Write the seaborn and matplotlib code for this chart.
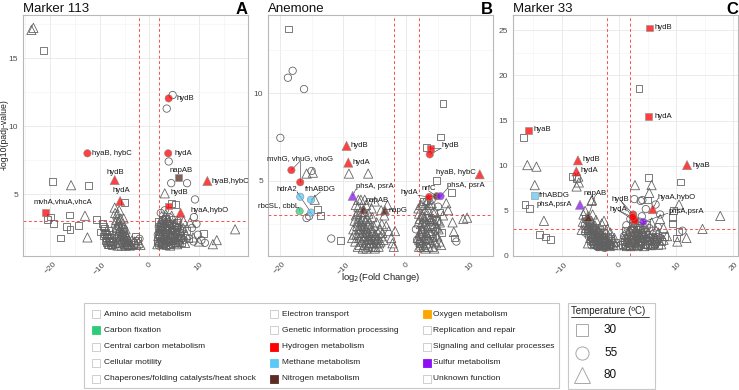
import matplotlib
matplotlib.use("Agg")
import matplotlib.pyplot as plt
import seaborn as sns
import pandas as pd
from matplotlib.patches import Rectangle
from matplotlib.lines import Line2D
from matplotlib.ticker import MultipleLocator

sns.set_theme(style="white")
plt.rcParams["font.family"] = ["Liberation Sans", "DejaVu Sans"]

# ---------------- data ----------------
TITLES = ["Marker 113", "Anemone", "Marker 33"]
LETTERS = ["A", "B", "C"]

CATEGORIES = ["Amino acid metabolism", "Carbon fixation", "Central carbon metabolism",
              "Cellular motility", "Chaperones/folding catalysts/heat shock",
              "Electron transport", "Genetic information processing", "Hydrogen metabolism",
              "Methane metabolism", "Nitrogen metabolism",
              "Oxygen metabolism", "Replication and repair", "Signaling and cellular processes",
              "Sulfur metabolism", "Unknown function"]
CAT_COLORS = {"Carbon fixation": "#2ECC7A", "Hydrogen metabolism": "#FF0000",
              "Methane metabolism": "#5BC8F5", "Nitrogen metabolism": "#5C2B24",
              "Oxygen metabolism": "#FFA500", "Sulfur metabolism": "#8B10F5"}
TEMPS = ["30", "55", "80"]

# Panel A (Marker 113) - open points by temperature
A_sq = [(-21.3,15.6),(-19.5,5.95),(-12.3,5.6),(-20.5,3.1),(-19.4,2.85),(-20.0,3.3),(-16.1,3.45),(-14.3,2.7),
        (-16.0,2.4),(-16.8,2.6),(-18.0,1.75),(-10.7,3.1),(-9.9,2.2),(-9.2,2.6),(-8.7,2.0),(-5.0,4.35),(8.0,1.7),
        (5.3,4.2),(10.9,2.1),(-9.0,2.5),(-8.8,2.2),(-8.5,1.9),(-8.3,1.7),(-8.1,1.5),(-7.9,1.3),(-8.6,1.4),
        (-8.9,1.6),(-7.6,1.2),(-8.2,1.25),(-7.4,1.5),(-9.3,1.9),(-8.0,2.0),(-7.7,1.8),(-3.2,1.3),(-2.8,1.9),
        (-2.4,1.6),(1.7,1.6),(2.1,2.0),(2.5,2.4),(2.9,2.8),(3.3,3.2),(3.7,1.9),(4.1,2.3),(4.5,2.7),(4.9,3.1),
        (5.3,1.4),(5.7,1.8),(6.1,2.2),(2.7,1.3),(3.5,1.6),(4.3,1.3),(1.9,3.0),(4.7,1.6),(5.5,2.9),(6.5,1.4),
        (4.4,4.3),(7.5,2.3),(-8.4,1.3),(-8.0,1.6),(-7.8,1.4),(-8.7,1.8),(-9.1,2.1),(-7.5,1.3),(-8.3,2.3),
        (-9.4,2.8),(1.8,2.2),(2.2,2.6),(2.6,3.1),(3.0,1.9),(3.4,2.4),(3.8,2.7),(4.2,1.6),(4.6,2.0),(5.0,2.4),
        (5.4,2.6),(2.4,1.4),(3.2,1.2),(6.3,1.8)]
A_ci = [(4.7,12.3),(3.5,11.3),(3.9,7.4),(4.4,5.8),(7.6,5.8),(9.2,4.6),(9.8,2.0),(10.5,1.6),(11.2,1.4),(9.5,2.8),
        (9.0,3.3),(8.6,2.5),(8.9,1.5),(-6.0,2.2),(-5.4,2.0),(-4.9,1.8),(-4.5,1.6),(-5.7,1.8),(-4.3,1.4),(-6.2,2.6),
        (-5.1,2.4),(-2.0,1.7),(1.8,1.4),(2.0,1.8),(2.2,2.2),(2.4,2.6),(2.6,3.0),(2.8,3.4),(3.0,1.3),(3.2,1.7),
        (3.4,2.1),(3.6,2.5),(3.8,2.9),(4.0,3.3),(4.2,1.5),(4.4,1.9),(4.6,2.3),(4.8,2.7),(5.0,1.3),(5.2,1.7),
        (5.4,2.1),(5.6,2.5),(5.8,3.0),(6.0,1.5),(6.3,1.9),(6.6,2.3),(7.0,1.6),(1.9,2.6),(2.3,3.6),(3.1,3.8),
        (2.5,1.5),(3.7,1.4),(1.7,2.0),(2.1,2.4),(2.5,2.8),(2.9,1.6),(3.3,2.0),(3.7,2.4),(4.1,2.8),(4.5,1.3),
        (4.9,1.7),(5.3,2.1),(5.7,2.5),(6.1,1.3),(6.5,1.7),(2.7,1.9),(3.5,2.8),(4.3,2.2),(1.9,1.2),(3.9,1.2),
        (2.3,1.3),(3.1,2.4)]
A_tr = [(-23.8,17.1),(-23.4,17.25),(-15.8,5.65),(-13.0,3.4),(-12.5,1.8),(3.1,5.05),(12.8,1.3),(13.6,1.6),
        (17.3,2.4),(10.0,1.5),(8.8,1.8),(7.4,2.0),(8.2,2.9),(6.9,3.0),(-7.0,4.0),(-6.9,3.6),(-6.7,3.1),(-6.5,3.5),
        (-6.2,3.0),(-6.0,2.7),(-5.8,2.5),(-5.6,2.3),(-5.3,2.1),(-5.1,1.9),(-4.9,1.7),(-4.6,1.5),(-4.4,1.35),
        (-4.2,1.25),(-5.5,1.6),(-5.9,1.4),(-6.3,1.5),(-6.6,1.8),(-6.4,2.1),(-5.0,1.3),(-4.7,2.0),(-4.0,1.5),
        (-3.8,1.3),(-6.1,3.8),(-5.4,2.8),(-5.2,3.2),(-4.8,2.4),(-3.5,1.6),(-3.0,1.5),(-2.6,1.3),(-2.2,1.4),
        (-1.8,1.25),(1.6,1.3),(2.0,1.5),(2.4,1.9),(2.8,2.3),(3.2,2.7),(3.6,3.1),(4.0,1.6),(4.4,2.0),(4.8,2.4),
        (5.2,2.8),(5.6,1.3),(6.0,1.7),(6.4,2.1),(6.8,2.5),(3.3,3.5),(4.5,3.4),(2.2,2.9),(-6.8,2.9),(-6.5,2.5),
        (-6.1,2.3),(-5.7,2.0),(-5.3,1.7),(-4.9,1.5),(-4.5,1.3),(-6.4,1.2),(-5.6,1.2),(-4.8,1.2),(-6.8,1.4),
        (-6.0,1.9),(-5.2,2.5),(-4.4,1.8),(-3.9,1.2),(-5.8,3.2),(-6.6,2.6),(-5.0,2.2),(-4.2,1.6),(-3.6,1.25),
        (1.8,1.9),(2.2,2.3),(2.6,2.7),(3.0,3.1),(3.4,1.3),(3.8,1.7),(4.2,2.1),(4.6,2.5),(5.0,2.0),(5.4,1.5),
        (5.8,2.2),(2.6,1.4),(3.0,1.8),(4.2,1.2),(6.2,2.6),(7.2,1.4)]
# Panel A highlighted genes
A_hx = [3.9, -12.5, 3.8, -7.0, -5.9, 5.95, 11.7, 3.9, 6.3, -20.9]
A_hy = [12.05, 8.0, 8.0, 6.03, 4.48, 6.2, 5.96, 4.12, 3.62, 3.65]
A_ht = ["55", "55", "55", "80", "80", "30", "80", "30", "80", "30"]
A_hc = ["Hydrogen metabolism"] * 5 + ["Nitrogen metabolism"] + ["Hydrogen metabolism"] * 4

# Panel B (Anemone)
B_sq = [(-18.6,13.7),(5.8,9.4),(5.4,7.5),(3.2,6.9),(4.7,5.0),(7.1,4.3),(7.6,1.7),(-14.1,3.35),(-13.6,3.0),
        (-10.4,1.57),(2.3,2.2),(3.5,2.9),(4.2,1.7),(4.8,2.7),(2.7,3.8),(5.3,3.2),(2.0,1.4),(3.0,1.6),(5.6,2.0)]
B_ci = [(-18.0,11.3),(-18.75,10.9),(-16.2,10.25),(-19.95,7.45),(-15.0,5.55),(-15.8,2.85),(-15.4,2.95),
        (-11.9,1.67),(7.9,1.5),(1.5,2.2),(-7.0,2.3),(-6.3,1.9),(-5.9,1.2),(2.5,3.5),(3.2,3.8),(4.0,3.9),
        (2.2,1.1),(3.8,2.6),(4.6,2.1),(5.0,3.5),(1.7,1.6)]
B_tr = [(-15.8,5.4),(-14.8,5.45),(-14.5,3.9),(-9.1,5.4),(-6.05,5.4),(-7.6,3.9),(-6.6,3.9),(-8.0,3.6),
        (-3.0,3.6),(-4.0,3.3),(-8.0,3.0),(-7.6,2.8),(-7.2,2.6),(-6.8,2.4),(-6.4,2.2),(-6.0,2.0),(-5.6,1.8),
        (-5.2,1.6),(-4.8,1.4),(-4.4,1.2),(-7.8,2.4),(-7.4,2.2),(-7.0,2.0),(-6.6,1.8),(-6.2,1.6),(-5.8,1.4),
        (-5.4,1.2),(-7.9,1.9),(-7.5,1.7),(-7.1,1.5),(-6.7,1.3),(-6.3,1.1),(-8.2,2.7),(-8.1,1.5),(-7.7,1.2),
        (-6.9,2.9),(-6.5,2.7),(-6.1,2.5),(-5.7,2.3),(-5.3,2.1),(-4.9,1.9),(-4.5,1.7),(-4.1,1.5),(-6.0,3.1),
        (-5.4,2.9),(-4.7,2.6),(-4.2,2.2),(-3.8,2.0),(-5.0,1.1),(-6.9,1.1),(-7.3,3.2),(-8.4,2.2),(-8.6,1.7),
        (-5.5,3.4),(-6.4,3.6),(-7.6,3.5),(-7.2,3.9),(-5.0,3.8),(-3.5,3.0),(-3.2,2.4),(-2.8,2.1),(-2.2,1.4),
        (-2.0,1.2),(-2.4,1.7),(-1.8,2.1),(2.0,1.2),(2.2,1.5),(2.4,1.8),(2.6,2.1),(2.8,2.4),(3.0,2.7),(3.2,3.0),
        (3.4,3.3),(3.6,3.6),(2.1,2.0),(2.3,2.5),(2.5,3.0),(2.7,1.3),(2.9,1.7),(3.1,2.0),(3.3,2.3),(3.5,1.2),
        (3.7,1.6),(3.9,2.0),(4.1,2.4),(4.3,2.8),(4.5,3.2),(4.7,1.4),(4.9,1.8),(5.1,2.2),(5.3,2.6),(5.5,1.3),
        (1.8,1.7),(1.9,2.6),(2.0,3.1),(4.0,3.7),(4.4,1.1),(3.0,1.1),(5.8,3.0),(6.3,3.7),(9.0,2.8),(9.6,2.87),
        (7.3,2.6),(7.5,2.05),(6.6,3.3),(-7.7,2.6),(-7.3,2.4),(-6.9,2.2),(-6.5,2.0),(-6.1,1.8),(-5.7,1.6),
        (-5.3,1.4),(-4.9,1.2),(-7.5,2.0),(-7.1,1.8),(-6.7,1.6),(-6.3,1.4),(-5.9,1.6),(-5.5,2.0),(-5.1,1.8),
        (-4.7,1.6),(-4.3,1.4),(-7.4,1.3),(-6.0,1.2),(-8.3,1.9),(-7.0,2.7),(-6.2,2.8),(-5.8,2.6),(-4.5,2.0),
        (-4.0,1.8),(-3.6,1.6),(-7.8,3.1),(-6.6,3.2),(-5.2,2.4),(-3.9,2.5),(2.0,1.6),(2.2,1.9),(2.4,2.2),
        (2.6,2.6),(2.8,2.9),(3.0,3.3),(3.2,1.4),(3.4,1.7),(3.6,2.0),(3.8,2.4),(4.0,2.8),(4.2,3.2),(4.4,1.5),
        (4.6,1.9),(4.8,2.3),(5.0,2.7),(2.1,2.8),(2.5,1.4),(2.9,1.2),(3.3,1.9),(3.7,2.8),(4.1,1.2),(4.5,2.5),
        (5.2,1.5),(1.9,3.4),(2.3,3.6),(3.1,3.7),(3.5,3.9)]
B_hx = [-9.47, -9.2, -18.2, -16.8, -16.8, -15.1, -16.9, -15.1, -8.5, -6.8, -3.4, 3.8, 3.7, 11.6, 3.6, 4.8, 5.4]
B_hy = [6.99, 6.03, 5.6, 4.9, 4.07, 3.9, 3.24, 3.16, 4.12, 3.35, 3.3, 6.84, 6.5, 5.36, 4.06, 4.1, 4.1]
B_ht = ["80", "80", "55", "55", "55", "55", "55", "55", "80", "80", "80", "30", "55", "80", "55", "55", "55"]
B_hc = ["Hydrogen metabolism"] * 4 + ["Methane metabolism"] * 2 + ["Carbon fixation", "Methane metabolism",
        "Sulfur metabolism", "Nitrogen metabolism", "Nitrogen metabolism"] + ["Hydrogen metabolism"] * 4 + \
       ["Nitrogen metabolism", "Sulfur metabolism"]

# Panel C (Marker 33)
C_sq = [(3.5,18.6),(-16.6,13.1),(-16.4,5.67),(-15.6,5.3),(-13.9,2.4),(-12.8,2.1),(-11.9,1.85),(-8.2,8.8),
        (-7.4,8.6),(5.1,8.7),(5.0,6.2),(10.8,8.2),(9.5,5.07),(9.4,4.26),(9.4,3.6),(10.5,2.7),(10.1,2.0),
        (-5.8,4.2),(-5.2,3.6),(-4.6,3.0),(-4.0,2.6),(-3.4,2.2),(-2.8,1.8),(-2.2,1.5),(-1.6,1.3),(-1.0,1.2),
        (-5.5,2.8),(-4.9,2.4),(-4.3,2.0),(-3.7,1.6),(-3.1,1.3),(-2.5,1.1),(-5.0,1.7),(-4.4,1.4),(-3.8,1.1),
        (-6.0,3.4),(-0.6,1.5),(-1.9,2.1),(-3.3,2.9),(0.6,1.3),(1.0,1.6),(1.4,2.0),(1.8,1.2),(2.2,1.5),(2.6,1.9),
        (3.0,2.3),(3.4,1.2),(3.8,1.6),(4.2,2.0),(4.6,2.4),(5.0,1.3),(5.4,1.7),(5.8,2.1),(6.2,1.4),(6.6,1.8),
        (7.0,1.2),(7.5,1.6),(3.2,3.2),(4.8,3.5),(1.2,2.8),(2.4,3.6),(8.0,2.2),(-5.4,3.3),(-4.8,2.9),(-4.2,2.4),
        (-3.6,2.0),(-3.0,1.6),(-2.4,1.3),(-1.8,1.1),(-4.6,1.6),(-4.0,1.3),(-3.4,1.1),(-2.6,2.6),(-1.4,1.9),
        (1.2,1.1),(1.6,1.5),(2.0,1.9),(2.4,2.4),(2.8,1.1),(3.2,1.5),(3.6,1.9),(4.0,2.3),(4.4,1.3),(4.8,1.7),
        (5.2,2.1),(5.6,1.1),(6.0,1.6),(6.4,2.2),(2.2,2.9),(3.0,3.0),(3.8,2.9)]
C_ci = [(2.7,6.3),(3.8,6.1),(4.1,6.2),(4.7,5.2),(11.1,2.8),(7.2,4.6),(6.4,5.7),(-5.6,3.9),(-5.0,3.3),(-4.4,2.7),
        (-3.8,2.3),(-3.2,1.9),(-2.6,1.6),(-2.0,1.3),(-1.4,1.1),(-5.3,2.2),(-4.7,1.9),(-4.1,1.6),(-3.5,1.3),
        (-2.9,1.1),(-5.9,2.6),(-4.8,1.2),(-2.3,2.4),(-1.2,1.7),(0.9,2.2),(1.5,1.4),(1.9,2.5),(2.3,3.0),(2.7,1.3),
        (3.1,1.7),(3.5,2.1),(3.9,2.5),(4.3,2.9),(4.7,1.2),(5.1,1.6),(5.5,2.0),(5.9,2.4),(6.3,1.2),(6.7,1.6),
        (7.2,2.0),(2.0,4.1),(3.6,3.8),(4.0,4.4),(1.3,3.4),(5.3,3.1),(6.8,3.2),(-5.1,3.8),(-4.5,3.2),(-3.9,2.8),
        (-3.3,2.4),(-2.7,2.0),(-2.1,1.6),(-1.5,1.3),(-4.3,1.2),(-3.7,1.0),(-2.5,0.9),(1.0,1.3),(1.4,1.7),
        (1.8,2.1),(2.2,1.2),(2.6,1.6),(3.0,2.0),(3.4,2.5),(3.8,1.1),(4.2,1.5),(4.6,1.9),(5.0,2.3),(5.4,1.2),
        (5.8,1.6),(6.2,2.0),(2.8,3.6),(3.6,3.3)]
C_tr = [(-16.0,10.07),(-14.4,9.9),(-14.7,7.85),(-13.1,3.9),(-7.0,8.15),(-7.4,7.7),(-7.1,8.8),(-4.7,6.2),
        (2.8,7.85),(5.7,7.85),(5.3,7.0),(10.5,5.7),(7.2,4.1),(17.7,4.44),(14.6,3.0),(11.8,2.0),(10.2,1.6),
        (7.8,3.1),(8.4,2.2),(-4.8,6.1),(-6.2,4.6),(-5.9,5.0),(-5.4,4.4),(-4.8,3.9),(-4.2,3.4),(-3.6,2.9),
        (-3.0,2.5),(-2.4,2.1),(-1.8,1.7),(-1.2,1.4),(-5.7,3.1),(-5.1,2.6),(-4.5,2.2),(-3.9,1.8),(-3.3,1.5),
        (-2.7,1.2),(-6.3,3.8),(-6.5,2.9),(-5.4,1.4),(-4.0,4.0),(-3.0,3.6),(-2.0,3.0),(-1.5,2.6),(-0.8,2.0),
        (-2.6,3.9),(-4.6,4.6),(0.8,1.8),(1.6,2.6),(2.0,1.1),(2.4,2.2),(2.8,2.7),(3.2,1.1),(3.6,1.4),(4.0,1.8),
        (4.4,1.1),(4.8,2.1),(5.2,2.5),(5.6,1.2),(6.0,1.5),(6.4,2.0),(6.9,2.6),(7.4,1.3),(7.8,1.8),(2.6,3.4),
        (3.0,4.0),(4.5,3.2),(5.7,3.7),(6.5,2.8),(1.1,1.2),(-5.6,3.6),(-5.0,3.1),(-4.4,2.6),(-3.8,2.2),
        (-3.2,1.8),(-2.6,1.5),(-2.0,1.2),(-5.3,2.9),(-4.7,2.4),(-4.1,2.0),(-3.5,1.7),(-2.9,1.4),(-2.3,1.2),
        (-5.0,2.0),(-4.4,1.7),(-3.8,1.4),(-3.2,1.1),(-1.6,1.1),(-4.2,3.0),(-3.6,2.6),(-2.8,2.2),(-2.2,1.8),
        (-1.0,1.6),(-0.5,1.2),(1.4,1.1),(1.8,1.5),(2.2,1.8),(2.6,2.3),(3.0,1.4),(3.4,1.7),(3.8,2.1),(4.2,2.5),
        (4.6,1.4),(5.0,1.8),(5.4,2.2),(5.8,1.3),(6.2,1.7),(2.0,2.8),(3.2,2.6),(4.0,3.0),(1.0,2.4)]
C_hx = [5.4, 5.1, -15.8, 11.9, -7.16, -7.44, -14.8, -6.8, -5.4, 2.5, 2.6, 2.8, 2.4, 5.9, 4.26]
C_hy = [25.26, 15.44, 13.9, 10.07, 10.6, 9.37, 6.67, 5.67, 4.33, 4.6, 4.1, 3.9, 4.3, 5.19, 3.78]
C_ht = ["30", "30", "30", "80", "80", "80", "30", "80", "80", "55", "55", "55", "55", "80", "55"]
C_hc = ["Hydrogen metabolism"] * 6 + ["Methane metabolism", "Sulfur metabolism", "Nitrogen metabolism"] + \
       ["Hydrogen metabolism"] * 5 + ["Sulfur metabolism"]

# gene labels: (text, x, y, ha, indices of connected points)
A_labels = [("hydB", 5.4, 12.05, "left", []), ("hyaB, hybC", -11.6, 8.0, "left", []),
            ("hydA", 5.1, 8.0, "left", []), ("hydB", -6.9, 6.6, "center", []),
            ("hydA", -5.7, 5.25, "center", []), ("napAB", 6.3, 6.75, "center", []),
            ("hyaB,hybC", 12.6, 5.96, "left", []), ("hydB", 5.95, 5.1, "center", []),
            ("hyaA,hybO", 8.2, 3.77, "left", []), ("mvhA,vhuA,vhcA", -23.4, 4.43, "left", [])]
B_labels = [("hydB", -8.8, 6.99, "left", []), ("hydA", -8.5, 6.03, "left", []),
            ("mvhG, vhuG, vhoG", -16.8, 6.27, "center", [2, 3]), ("hdrA2", -17.3, 4.5, "right", [4, 7]),
            ("frhABDG", -13.6, 4.5, "center", [5]), ("rbcSL, cbbL", -17.0, 3.58, "right", [6]),
            ("phsA, psrA", -8.0, 4.66, "left", [8]), ("napAB", -6.4, 3.87, "left", [9]),
            ("napG", -2.9, 3.3, "left", []), ("hydB", 5.5, 7.0, "left", [11, 12]),
            ("hyaB, hybC", 10.9, 5.45, "right", []), ("hydA", 1.8, 4.3, "right", [14]),
            ("nrfC", 3.5, 4.56, "center", [15]), ("phsA, psrA", 6.5, 4.7, "left", [16])]
C_labels = [("hydB", 6.3, 25.3, "left", []), ("hydA", 6.2, 15.44, "left", []),
            ("hyaB", -15.0, 14.0, "left", []), ("hyaB", 12.9, 10.07, "left", []),
            ("hydB", -6.4, 10.7, "left", []), ("hydA", -6.7, 9.5, "left", []),
            ("frhABDG", -13.9, 6.67, "left", []), ("phsA,psrA", -8.2, 5.67, "right", []),
            ("napAB", -4.1, 6.9, "center", [8]), ("hydB", 0.3, 6.3, "center", [9, 10]),
            ("hydA", -0.1, 5.2, "center", [11, 12]), ("hyaA,hybO", 6.8, 6.5, "left", [13]),
            ("phsA,psrA", 8.6, 4.9, "left", [14])]

XLIMS = [(-25.5, 19.9), (-21.9, 13.7), (-18.5, 20.8)]
YLIMS = [(0.43, 18.2), (0.67, 14.5), (0.0, 26.7)]
XMAJ = [10, 10, 10]
YMAJ = [5, 5, 5]
FC_CUT = 2
P_CUT = 3

# ---------------- figure ----------------
W, H = 739, 390
fig = plt.figure(figsize=(W / 100, H / 100), dpi=100)

PAL = {"Other": (1, 1, 1, 0)}
for c, col in CAT_COLORS.items():
    rgb = matplotlib.colors.to_rgb(col)
    PAL[c] = (rgb[0], rgb[1], rgb[2], 0.75)
MARKERS = {"30": "s", "55": "o", "80": "^"}
SIZES = {"30": 24, "55": 28, "80": 44}


def make_df(sq, ci, tr, hx, hy, ht, hc):
    rows = [(x, y, "30", "Other") for x, y in sq] + [(x, y, "55", "Other") for x, y in ci] + \
           [(x, y, "80", "Other") for x, y in tr]
    rows += list(zip(hx, hy, ht, hc))
    return pd.DataFrame(rows, columns=["x", "y", "temp", "cat"])


panels = [make_df(A_sq, A_ci, A_tr, A_hx, A_hy, A_ht, A_hc),
          make_df(B_sq, B_ci, B_tr, B_hx, B_hy, B_ht, B_hc),
          make_df(C_sq, C_ci, C_tr, C_hx, C_hy, C_ht, C_hc)]
highlights = [(A_hx, A_hy), (B_hx, B_hy), (C_hx, C_hy)]
labels = [A_labels, B_labels, C_labels]
lefts = [23, 268, 513]
ax_w, ax_top, ax_bot = 225, 15, 256

for i, df in enumerate(panels):
    ax = fig.add_axes([lefts[i] / W, 1 - ax_bot / H, ax_w / W, (ax_bot - ax_top) / H])
    ax.set_xlim(*XLIMS[i])
    ax.set_ylim(*YLIMS[i])
    ax.xaxis.set_major_locator(MultipleLocator(XMAJ[i]))
    ax.xaxis.set_minor_locator(MultipleLocator(XMAJ[i] / 2))
    ax.yaxis.set_major_locator(MultipleLocator(YMAJ[i]))
    ax.yaxis.set_minor_locator(MultipleLocator(YMAJ[i] / 2))
    ax.grid(which="major", color="#E3E3E3", lw=0.5)
    ax.grid(which="minor", color="#F1F1F1", lw=0.4)
    ax.set_axisbelow(True)
    for s in ax.spines.values():
        s.set_color("#B8B8B8")
        s.set_linewidth(0.8)
    ax.tick_params(axis="both", which="major", labelsize=6, labelcolor="#4D4D4D",
                   color="#B8B8B8", length=2, width=0.5, pad=1.5)
    ax.tick_params(which="minor", length=0)
    for lab in ax.get_xticklabels():
        lab.set_rotation(45)
        lab.set_ha("center")
        lab.set_va("top")

    ax.axvline(-FC_CUT, color="#FF4D4D", lw=0.7, ls=(0, (3, 2.5)), zorder=1)
    ax.axvline(FC_CUT, color="#FF4D4D", lw=0.7, ls=(0, (3, 2.5)), zorder=1)
    ax.axhline(P_CUT, color="#FF4D4D", lw=0.7, ls=(0, (3, 2.5)), zorder=1)

    open_df = df[df["cat"] == "Other"]
    hl_df = df[df["cat"] != "Other"]
    sns.scatterplot(data=open_df, x="x", y="y", hue="cat", palette=PAL, style="temp",
                    markers=MARKERS, size="temp", sizes=SIZES, edgecolor="#616161",
                    linewidth=0.58, legend=False, ax=ax, zorder=2)
    sns.scatterplot(data=hl_df, x="x", y="y", hue="cat", palette=PAL, style="temp",
                    markers=MARKERS, size="temp", sizes=SIZES, edgecolor="#8C8C8C",
                    linewidth=0.4, legend=False, ax=ax, zorder=3)

    hx, hy = highlights[i]
    for text, tx, ty, ha, idx in labels[i]:
        for j in idx:
            ax.plot([tx, hx[j]], [ty - 0.15 * (YMAJ[i] / 5), hy[j]], color="#333333", lw=0.4, zorder=2.5)
        ax.text(tx, ty, text, fontsize=5.6, ha=ha, va="center", color="#1a1a1a", zorder=4, clip_on=False)

    ax.set_xlabel("")
    ax.set_ylabel("")
    fig.text(lefts[i] / W, 1 - 9 / H, TITLES[i], fontsize=9.5, ha="left", va="center", color="#111111")
    fig.text((lefts[i] + ax_w) / W, 1 - 9 / H, LETTERS[i], fontsize=12, fontweight="bold",
             ha="right", va="center", color="#000000")

fig.text(4.5 / W, 1 - 135 / H, "-log10(padj-value)", rotation=90, fontsize=6.3, ha="center", va="center",
         color="#222222")
fig.text((268 + 225 / 2) / W, 1 - 277 / H, r"log$_2$(Fold Change)", fontsize=6.8, ha="center",
         va="center", color="#222222")

# ---------------- category legend ----------------
fig.add_artist(Rectangle((84 / W, 1 - 388 / H), 475 / W, 85 / H, transform=fig.transFigure,
                         facecolor="white", edgecolor="#C8C8C8", lw=0.8))
col_sw = [96, 274, 427]
col_tx = [104, 282, 433]
rows_y = [314, 330, 347, 363, 379]
for k, cat in enumerate(CATEGORIES):
    c, r = divmod(k, 5)
    fc = CAT_COLORS.get(cat, "white")
    ec = fc if cat in CAT_COLORS else "#C8C8C8"
    fig.add_artist(Rectangle(((col_sw[c] - 4) / W, 1 - (rows_y[r] + 4) / H), 8 / W, 8 / H,
                             transform=fig.transFigure, facecolor=fc, edgecolor=ec, lw=0.6))
    fig.text(col_tx[c] / W, 1 - rows_y[r] / H, cat, fontsize=6, ha="left", va="center", color="#222222")

# ---------------- temperature legend ----------------
fig.add_artist(Rectangle((568 / W, 1 - 389 / H), 87 / W, 86 / H, transform=fig.transFigure,
                         facecolor="white", edgecolor="#C8C8C8", lw=0.8))
fig.text(571 / W, 1 - 311 / H, "Temperature (ºC)", fontsize=7, ha="left", va="center", color="#222222")
fig.add_artist(Line2D([571 / W, 649 / W], [1 - 317 / H, 1 - 317 / H], transform=fig.transFigure,
                      color="#222222", lw=0.6))
t_y = [330, 353, 375]
t_ms = [9, 9.5, 11]
for k, t in enumerate(TEMPS):
    fig.add_artist(Line2D([582 / W], [1 - t_y[k] / H], marker=MARKERS[t], markersize=t_ms[k],
                          markerfacecolor="none", markeredgecolor="#A8A8A8", markeredgewidth=0.7,
                          transform=fig.transFigure))
    fig.text(604 / W, 1 - t_y[k] / H, t, fontsize=8.5, ha="left", va="center", color="#111111")

fig.savefig("out.png", dpi=100)
